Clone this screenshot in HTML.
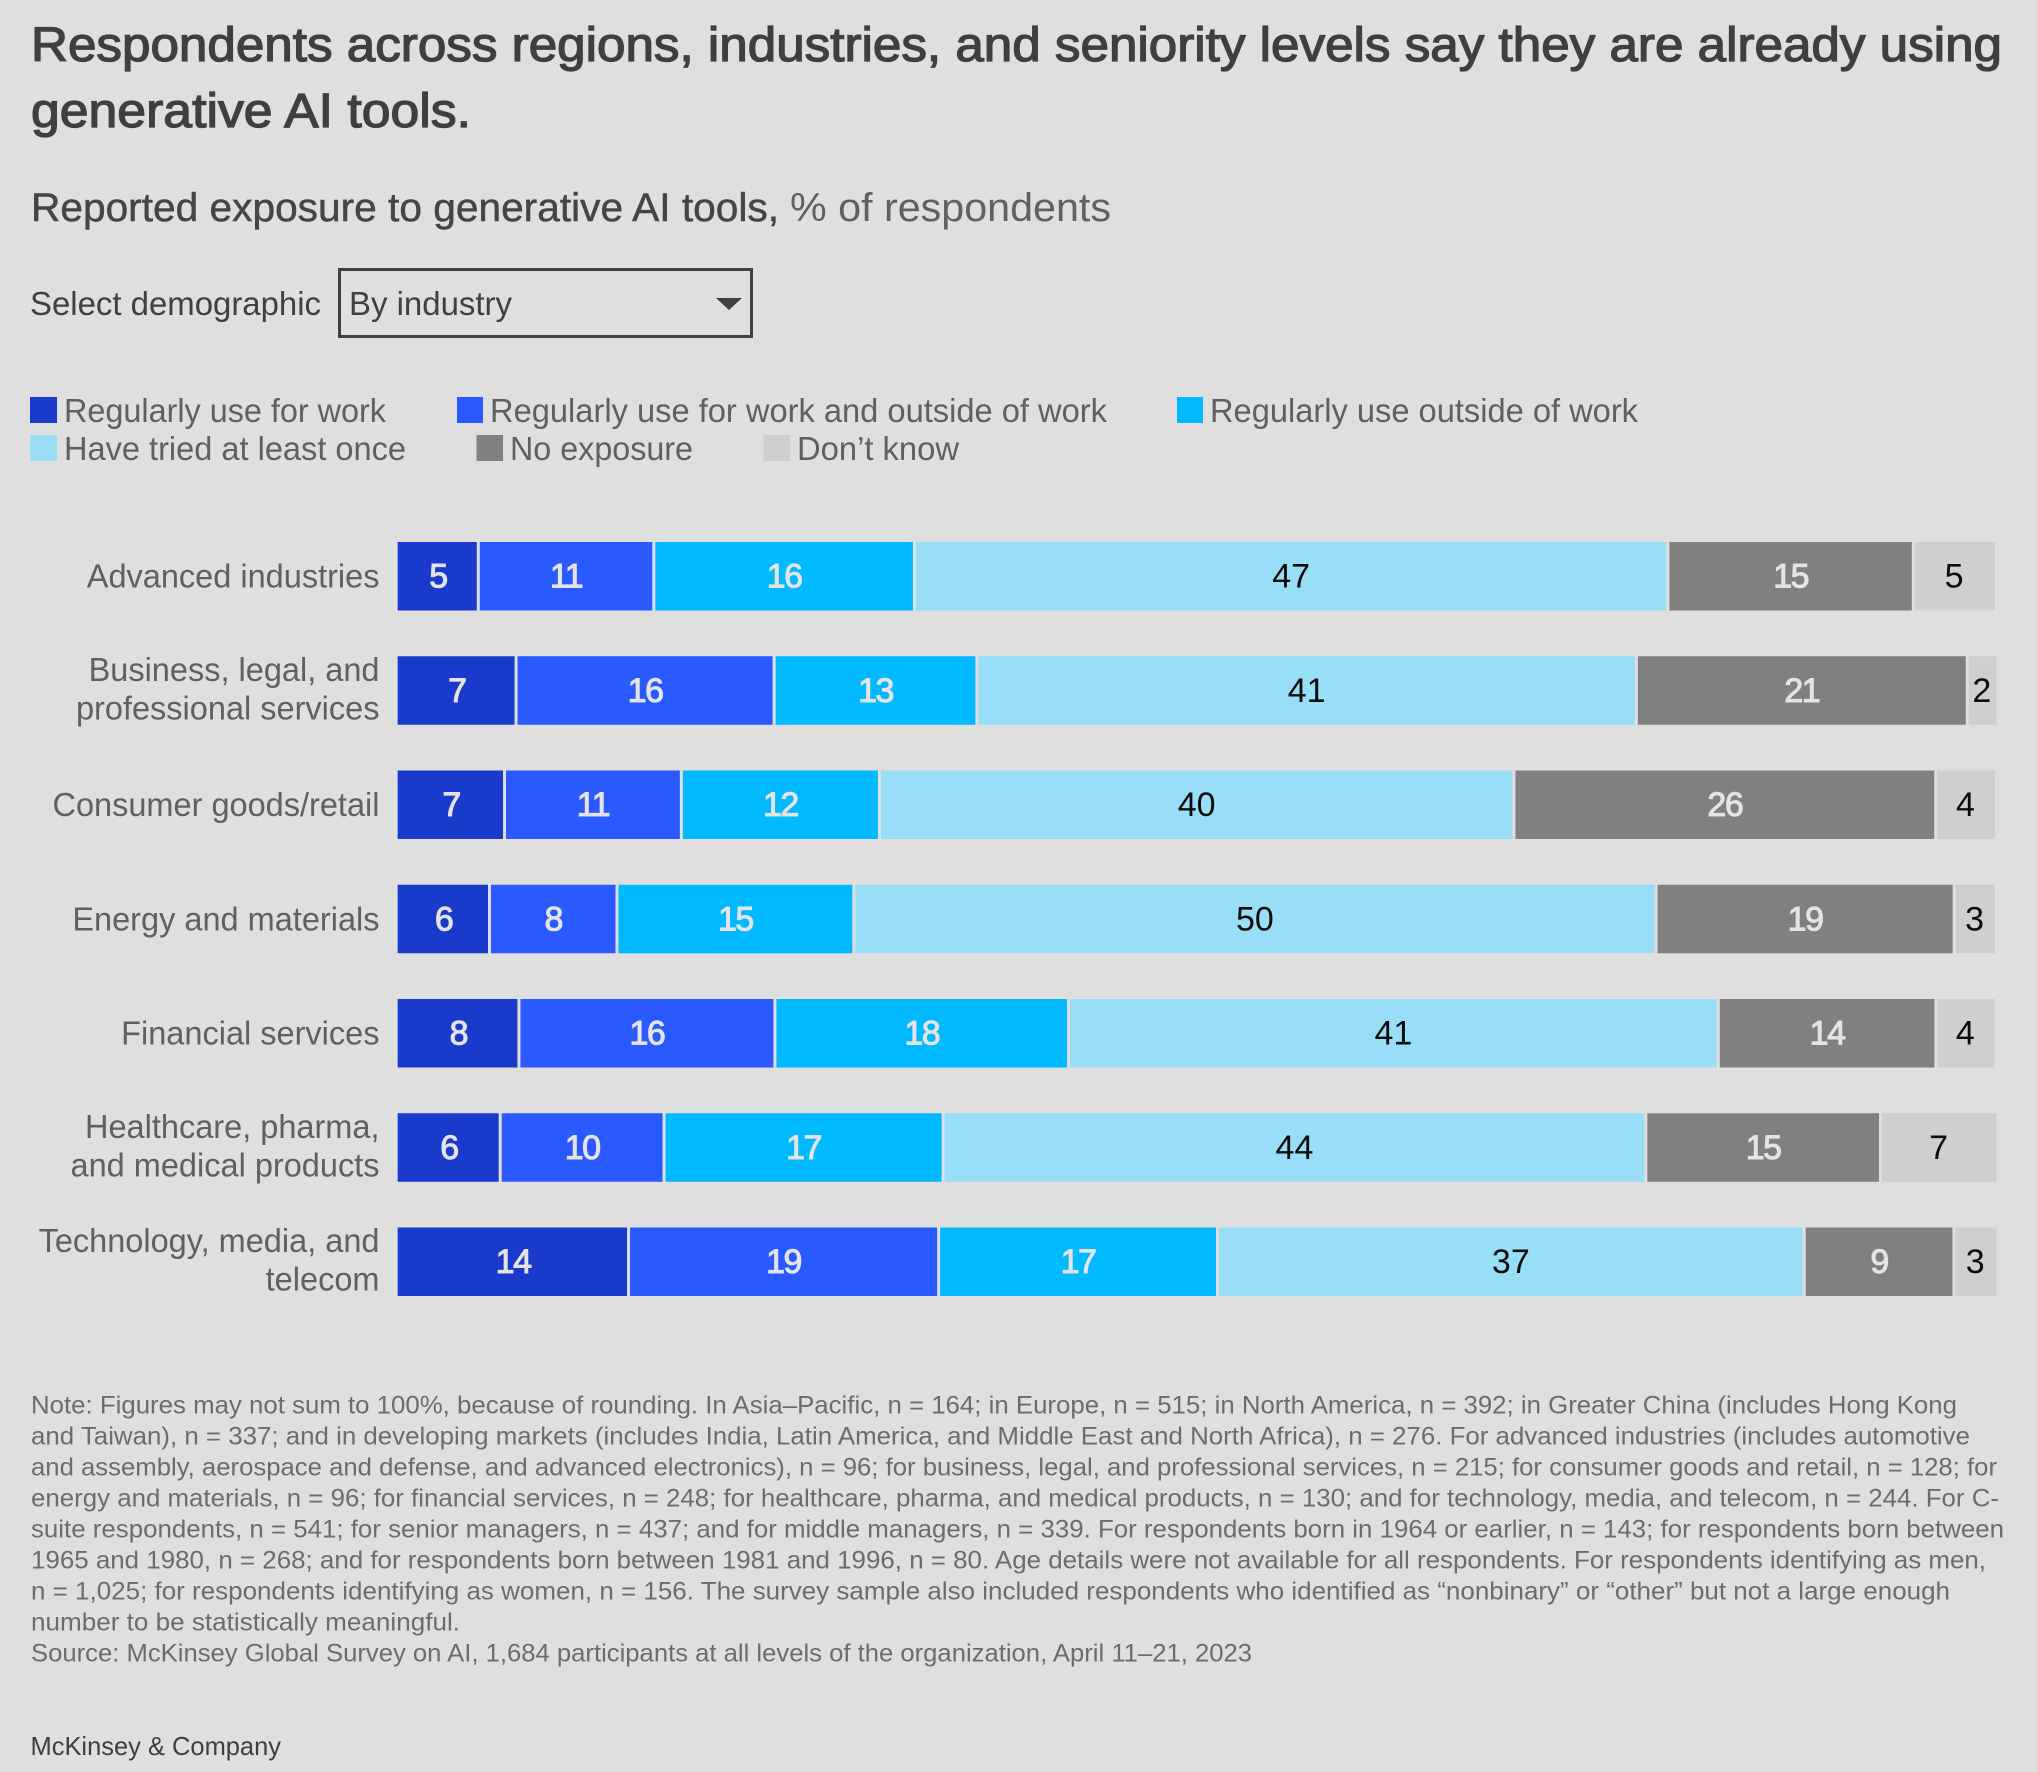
<!DOCTYPE html>
<html lang="en">
<head>
<meta charset="utf-8">
<title>Reported exposure to generative AI tools</title>
<style>
  html, body { margin: 0; padding: 0; background: #dfdfdf; }
  svg { display: block; font-family: "Liberation Sans", sans-serif; }
  .title { font-size: 48px; fill: #3f3f3f; stroke: #3f3f3f; stroke-width: 1.3px; }
  .sub-strong { font-size: 40px; fill: #454545; stroke: #454545; stroke-width: 0.5px; }
  .sub-light { font-size: 40px; fill: #606060; }
  .ctl { font-size: 33px; fill: #404040; }
  .legend { font-size: 33px; fill: #606060; }
  .note { font-size: 25px; fill: #6c6c6c; }
  .brand { font-size: 26px; fill: #3f3f3f; }
  .cat { font-size: 33px; fill: #606060; }
  .val-light { font-size: 34px; fill: #e4e4e4; stroke: #e4e4e4; stroke-width: 1px; letter-spacing: -1.5px; }
  .val-dark { font-size: 34px; fill: #0c0c0c; }
</style>
</head>
<body>
<svg id="chart" width="2037" height="1772" viewBox="0 0 2037 1772" xmlns="http://www.w3.org/2000/svg">
  <rect x="0" y="0" width="2037" height="1772" fill="#dfdfdf"/>

  <g>
    <text class="title" x="31" y="61" textLength="1971" lengthAdjust="spacingAndGlyphs">Respondents across regions, industries, and seniority levels say they are already using</text>
    <text class="title" x="31" y="127" textLength="440" lengthAdjust="spacingAndGlyphs">generative AI tools.</text>
  </g>

  <g>
    <text class="sub-strong" x="31" y="221" textLength="748" lengthAdjust="spacingAndGlyphs">Reported exposure to generative AI tools,</text>
    <text class="sub-light" x="790" y="221" textLength="321" lengthAdjust="spacingAndGlyphs">% of respondents</text>
  </g>

  <text class="ctl" x="30" y="315" textLength="291" lengthAdjust="spacingAndGlyphs">Select demographic</text>
  <g>
    <rect x="339.5" y="269.5" width="412" height="67" fill="none" stroke="#404040" stroke-width="3"/>
    <text class="ctl" x="349" y="315" textLength="163" lengthAdjust="spacingAndGlyphs">By industry</text>
    <polygon points="716,298 742,298 729,310" fill="#404040"/>
  </g>

  <g>
    <g>
      <rect x="30" y="397" width="27" height="26" fill="#193acb"/>
      <text class="legend" x="64" y="422" textLength="322" lengthAdjust="spacingAndGlyphs">Regularly use for work</text>
    </g>
    <g>
      <rect x="457" y="397" width="26" height="26" fill="#2959ff"/>
      <text class="legend" x="490" y="422" textLength="617" lengthAdjust="spacingAndGlyphs">Regularly use for work and outside of work</text>
    </g>
    <g>
      <rect x="1177" y="397" width="26" height="26" fill="#00b9ff"/>
      <text class="legend" x="1210" y="422" textLength="428" lengthAdjust="spacingAndGlyphs">Regularly use outside of work</text>
    </g>
    <g>
      <rect x="30" y="435" width="27" height="26" fill="#98def6"/>
      <text class="legend" x="64" y="460" textLength="342" lengthAdjust="spacingAndGlyphs">Have tried at least once</text>
    </g>
    <g>
      <rect x="476.5" y="435" width="26.5" height="26" fill="#808080"/>
      <text class="legend" x="510" y="460" textLength="183" lengthAdjust="spacingAndGlyphs">No exposure</text>
    </g>
    <g>
      <rect x="763.5" y="435" width="26.5" height="26" fill="#cfcfcf"/>
      <text class="legend" x="797" y="460" textLength="162" lengthAdjust="spacingAndGlyphs">Don’t know</text>
    </g>
  </g>

  <g id="plot"></g>

  <g>
    <text class="note" x="31" y="1413.5" textLength="1926" lengthAdjust="spacingAndGlyphs">Note: Figures may not sum to 100%, because of rounding. In Asia–Pacific, n = 164; in Europe, n = 515; in North America, n = 392; in Greater China (includes Hong Kong</text>
    <text class="note" x="31" y="1444.5" textLength="1939" lengthAdjust="spacingAndGlyphs">and Taiwan), n = 337; and in developing markets (includes India, Latin America, and Middle East and North Africa), n = 276. For advanced industries (includes automotive</text>
    <text class="note" x="31" y="1475.5" textLength="1966" lengthAdjust="spacingAndGlyphs">and assembly, aerospace and defense, and advanced electronics), n = 96; for business, legal, and professional services, n = 215; for consumer goods and retail, n = 128; for</text>
    <text class="note" x="31" y="1506.5" textLength="1968" lengthAdjust="spacingAndGlyphs">energy and materials, n = 96; for financial services, n = 248; for healthcare, pharma, and medical products, n = 130; and for technology, media, and telecom, n = 244. For C-</text>
    <text class="note" x="31" y="1537.5" textLength="1973" lengthAdjust="spacingAndGlyphs">suite respondents, n = 541; for senior managers, n = 437; and for middle managers, n = 339. For respondents born in 1964 or earlier, n = 143; for respondents born between</text>
    <text class="note" x="31" y="1568.5" textLength="1955" lengthAdjust="spacingAndGlyphs">1965 and 1980, n = 268; and for respondents born between 1981 and 1996, n = 80. Age details were not available for all respondents. For respondents identifying as men,</text>
    <text class="note" x="31" y="1599.5" textLength="1919" lengthAdjust="spacingAndGlyphs">n = 1,025; for respondents identifying as women, n = 156. The survey sample also included respondents who identified as “nonbinary” or “other” but not a large enough</text>
    <text class="note" x="31" y="1630.5" textLength="429" lengthAdjust="spacingAndGlyphs">number to be statistically meaningful.</text>
    <text class="note" x="31" y="1661.5" textLength="1221" lengthAdjust="spacingAndGlyphs">Source: McKinsey Global Survey on AI, 1,684 participants at all levels of the organization, April 11–21, 2023</text>
  </g>

  <text class="brand" x="30.5" y="1755" textLength="250.5" lengthAdjust="spacingAndGlyphs">McKinsey &amp; Company</text>
</svg>

<script>
const categories = [
  "Advanced industries",
  "Business, legal, and professional services",
  "Consumer goods/retail",
  "Energy and materials",
  "Financial services",
  "Healthcare, pharma, and medical products",
  "Technology, media, and telecom"
];
const regularlyForWork = [5.04, 7.40, 6.68, 5.74, 7.58, 6.41, 14.43];
const regularlyForBoth = [10.97, 16.13, 11.05, 7.97, 16.00, 10.24, 19.38];
const regularlyOutside = [16.29, 12.67, 12.38, 14.80, 18.35, 17.44, 17.43];
const triedAtLeastOnce = [47.09, 41.22, 39.66, 50.14, 40.61, 43.92, 36.67];
const noExposure = [15.34, 20.68, 26.36, 18.63, 13.60, 14.67, 9.36];
const dontKnow = [5.10, 1.83, 3.71, 2.55, 3.68, 7.25, 2.66];

const seriesKeys = ["regular-work", "regular-both", "regular-outside", "tried-once", "no-exposure", "dont-know"];
const seriesValues = [regularlyForWork, regularlyForBoth, regularlyOutside, triedAtLeastOnce, noExposure, dontKnow];
const seriesColors = ["#193acb", "#2959ff", "#00b9ff", "#98def6", "#808080", "#cfcfcf"];
const seriesLabelClass = ["val-light", "val-light", "val-light", "val-dark", "val-light", "val-dark"];

const SVG_NS = "http://www.w3.org/2000/svg";
const plot = document.getElementById("plot");

const xOrigin = 397.65, unitWidth = 16.0;
const bandStart = 542, bandStep = 114.25, barHeight = 68.5, segmentGap = 3;
const categoryRight = 379.5, labelWrap = 22, categoryWidthFactor = 0.985;

function xScale(v) { return xOrigin + v * unitWidth; }
function yBand(i) { return bandStart + i * bandStep; }

function wrapLabel(label) {
  const lines = [];
  let current = "";
  label.split(" ").forEach(function (word) {
    const next = current ? current + " " + word : word;
    if (next.length > labelWrap && current) {
      lines.push(current);
      current = word;
    } else {
      current = next;
    }
  });
  lines.push(current);
  return lines;
}

categories.forEach(function (category, i) {
  const top = yBand(i);
  const slug = category.toLowerCase().replace(/[^a-z]+/g, "-");

  const row = document.createElementNS(SVG_NS, "g");
  
  
  plot.appendChild(row);

  const lines = wrapLabel(category);
  lines.forEach(function (line, k) {
    const t = document.createElementNS(SVG_NS, "text");
    t.setAttribute("class", "cat");
    t.setAttribute("x", categoryRight);
    t.setAttribute("text-anchor", "end");
    const baseline = lines.length === 1 ? top + 45.5 : top + 24.5 + k * 38.7;
    t.setAttribute("y", baseline);
    t.textContent = line;
    
    
    row.appendChild(t);
    const natural = t.getComputedTextLength();
    t.setAttribute("textLength", natural * categoryWidthFactor);
    t.setAttribute("lengthAdjust", "spacingAndGlyphs");
  });

  let cumulative = 0;
  seriesValues.forEach(function (values, s) {
    const value = values[i];
    const x0 = xScale(cumulative);
    const x1 = xScale(cumulative + value);
    cumulative += value;
    const isFirst = s === 0;
    const isLast = s === seriesValues.length - 1;
    const left = isFirst ? x0 : x0 + segmentGap / 2;
    const right = isLast ? x1 : x1 - segmentGap / 2;

    const rect = document.createElementNS(SVG_NS, "rect");
    rect.setAttribute("x", left);
    rect.setAttribute("y", top);
    rect.setAttribute("width", Math.max(0, right - left));
    rect.setAttribute("height", barHeight);
    rect.setAttribute("fill", seriesColors[s]);
    
    
    row.appendChild(rect);

    const label = document.createElementNS(SVG_NS, "text");
    label.setAttribute("class", seriesLabelClass[s]);
    label.setAttribute("x", (x0 + x1) / 2);
    label.setAttribute("y", top + 45.5);
    label.setAttribute("text-anchor", "middle");
    label.textContent = String(Math.round(value));
    
    
    row.appendChild(label);
  });
});
</script>
</body>
</html>
